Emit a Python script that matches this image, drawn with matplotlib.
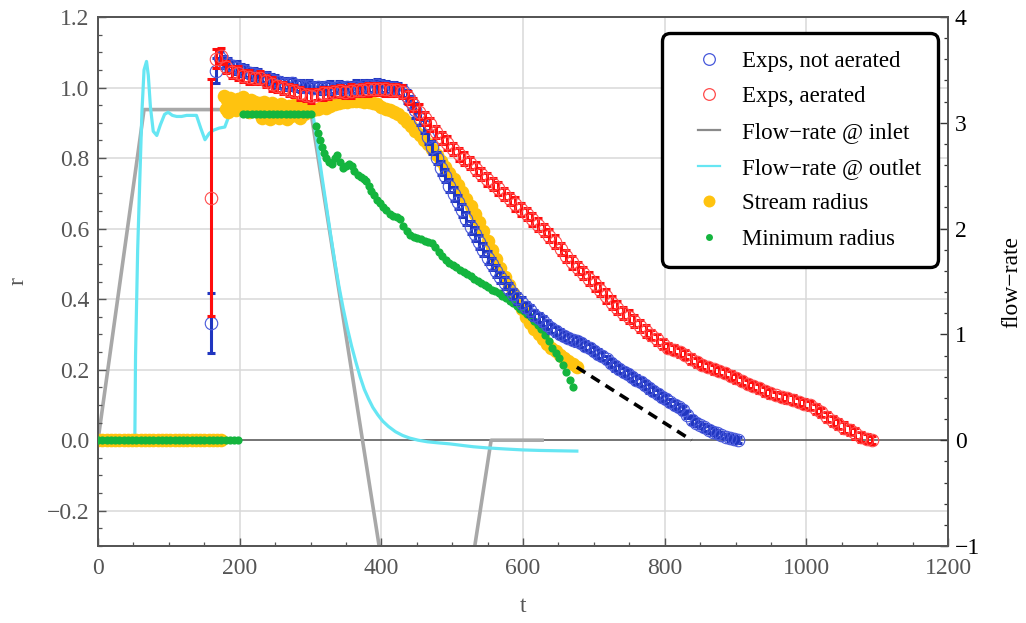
import matplotlib
matplotlib.use("Agg")
import matplotlib.pyplot as plt
from matplotlib.lines import Line2D
from matplotlib.legend_handler import HandlerLine2D
from matplotlib.ticker import MultipleLocator, FuncFormatter
from matplotlib.transforms import blended_transform_factory

plt.rcParams["font.family"] = ["Liberation Serif", "DejaVu Serif"]

# ---------------- data ----------------
# Experiments, not aerated: time, radius, error
blue_t = [160, 166, 172, 178, 184, 190, 196, 202, 208, 214,
          220, 226, 232, 238, 244, 250, 256, 262, 268, 274,
          280, 286, 292, 298, 304, 310, 316, 322, 328, 334,
          340, 346, 352, 358, 364, 370, 376, 382, 388, 394,
          400, 406, 412, 418, 424, 430, 436, 442, 448, 454,
          460, 466, 472, 478, 484, 490, 496, 502, 508, 514,
          520, 526, 532, 538, 544, 550, 556, 562, 568, 574,
          580, 586, 592, 598, 604, 610, 616, 622, 628, 634,
          640, 646, 652, 658, 664, 670, 676, 682, 688, 694,
          700, 706, 712, 718, 724, 730, 736, 742, 748, 754,
          760, 766, 772, 778, 784, 790, 796, 802, 808, 814,
          820, 826, 832, 838, 844, 850, 856, 862, 868, 874,
          880, 886, 892, 898, 904]
blue_r = [0.331, 1.048, 1.085, 1.072, 1.066, 1.060, 1.056, 1.050, 1.047, 1.041,
          1.038, 1.035, 1.030, 1.027, 1.022, 1.018, 1.015, 1.011, 1.009, 1.012,
          1.006, 1.004, 1.002, 1.003, 1.000, 1.002, 0.998, 1.001, 1.000, 0.999,
          1.002, 1.000, 1.001, 0.999, 1.002, 1.000, 1.003, 1.004, 1.002, 1.006,
          1.004, 1.001, 1.000, 0.998, 0.996, 0.990, 0.975, 0.958, 0.935, 0.912,
          0.890, 0.860, 0.830, 0.800, 0.772, 0.750, 0.722, 0.698, 0.675, 0.652,
          0.628, 0.604, 0.584, 0.562, 0.540, 0.518, 0.500, 0.480, 0.462, 0.446,
          0.430, 0.414, 0.402, 0.390, 0.378, 0.368, 0.356, 0.347, 0.337, 0.327,
          0.317, 0.309, 0.302, 0.296, 0.290, 0.285, 0.280, 0.275, 0.268, 0.261,
          0.253, 0.245, 0.238, 0.229, 0.219, 0.210, 0.202, 0.194, 0.187, 0.180,
          0.172, 0.165, 0.156, 0.147, 0.140, 0.131, 0.123, 0.116, 0.108, 0.100,
          0.093, 0.085, 0.072, 0.058, 0.050, 0.043, 0.037, 0.030, 0.024, 0.019,
          0.014, 0.010, 0.007, 0.004, 0.001]
blue_err = [0.085, 0.036, 0.018, 0.016, 0.017, 0.015, 0.018, 0.016, 0.017, 0.015,
            0.016, 0.018, 0.015, 0.017, 0.016, 0.018, 0.015, 0.016, 0.017, 0.015,
            0.016, 0.018, 0.015, 0.017, 0.016, 0.015, 0.017, 0.016, 0.018, 0.015,
            0.016, 0.017, 0.015, 0.016, 0.018, 0.015, 0.017, 0.016, 0.015, 0.017,
            0.016, 0.018, 0.015, 0.017, 0.016, 0.018, 0.019, 0.018, 0.020, 0.019,
            0.018, 0.020, 0.019, 0.018, 0.020, 0.019, 0.018, 0.019, 0.020, 0.018,
            0.019, 0.018, 0.020, 0.019, 0.018, 0.019, 0.017, 0.018, 0.016, 0.017,
            0.016, 0.015, 0.016, 0.015, 0.014, 0.015, 0.014, 0.013, 0.014, 0.013,
            0.012, 0.013, 0.012, 0.011, 0.012, 0.011, 0.012, 0.011, 0.012, 0.011,
            0.012, 0.013, 0.012, 0.011, 0.012, 0.013, 0.012, 0.011, 0.012, 0.011,
            0.012, 0.011, 0.012, 0.013, 0.012, 0.011, 0.012, 0.011, 0.010, 0.011,
            0.010, 0.011, 0.010, 0.011, 0.010, 0.009, 0.010, 0.009, 0.010, 0.009,
            0.009, 0.008, 0.009, 0.008, 0.008]

# Experiments, aerated: time, radius, error
red_t = [160, 167, 173, 181, 189, 197, 205, 213, 221, 229,
         237, 245, 253, 261, 269, 277, 285, 293, 301, 309,
         317, 325, 333, 341, 349, 357, 365, 373, 381, 389,
         397, 405, 413, 421, 429, 437, 445, 453, 461, 469,
         477, 485, 493, 501, 509, 517, 525, 533, 541, 549,
         557, 565, 573, 581, 589, 597, 605, 613, 621, 629,
         637, 645, 653, 661, 669, 677, 685, 693, 701, 709,
         717, 725, 733, 741, 749, 757, 765, 773, 781, 789,
         797, 805, 813, 821, 829, 837, 845, 853, 861, 869,
         877, 885, 893, 901, 909, 917, 925, 933, 941, 949,
         957, 965, 973, 981, 989, 997, 1005, 1013, 1021, 1029,
         1037, 1045, 1053, 1061, 1069, 1077, 1085, 1092]
red_r = [0.688, 1.082, 1.090, 1.058, 1.044, 1.040, 1.034, 1.030, 1.026, 1.028,
         1.018, 1.010, 1.003, 0.999, 0.994, 0.990, 0.984, 0.979, 0.976, 0.980,
         0.984, 0.985, 0.988, 0.990, 0.987, 0.990, 0.992, 0.994, 0.995, 0.996,
         0.997, 0.995, 0.993, 0.992, 0.988, 0.972, 0.952, 0.932, 0.913, 0.896,
         0.873, 0.857, 0.843, 0.826, 0.811, 0.798, 0.785, 0.770, 0.755, 0.740,
         0.727, 0.714, 0.698, 0.684, 0.670, 0.655, 0.640, 0.626, 0.611, 0.595,
         0.580, 0.563, 0.542, 0.522, 0.504, 0.488, 0.473, 0.458, 0.443, 0.427,
         0.408, 0.390, 0.376, 0.362, 0.350, 0.338, 0.324, 0.310, 0.298, 0.286,
         0.272, 0.262, 0.257, 0.249, 0.243, 0.231, 0.221, 0.213, 0.207, 0.201,
         0.196, 0.191, 0.183, 0.175, 0.167, 0.159, 0.153, 0.147, 0.139, 0.133,
         0.127, 0.122, 0.119, 0.115, 0.109, 0.104, 0.099, 0.089, 0.079, 0.067,
         0.055, 0.045, 0.035, 0.029, 0.019, 0.009, 0.004, 0.000]
red_err = [0.335, 0.027, 0.022, 0.018, 0.016, 0.020, 0.017, 0.019, 0.016, 0.018,
           0.017, 0.019, 0.016, 0.018, 0.017, 0.016, 0.018, 0.017, 0.019, 0.016,
           0.018, 0.017, 0.016, 0.018, 0.017, 0.019, 0.016, 0.017, 0.018, 0.016,
           0.017, 0.018, 0.016, 0.017, 0.018, 0.019, 0.018, 0.020, 0.018, 0.019,
           0.017, 0.018, 0.019, 0.017, 0.018, 0.019, 0.017, 0.018, 0.016, 0.018,
           0.017, 0.019, 0.018, 0.017, 0.019, 0.018, 0.017, 0.018, 0.019, 0.017,
           0.018, 0.019, 0.018, 0.017, 0.019, 0.018, 0.017, 0.018, 0.019, 0.018,
           0.020, 0.018, 0.019, 0.017, 0.018, 0.016, 0.017, 0.016, 0.015, 0.016,
           0.014, 0.013, 0.012, 0.013, 0.012, 0.014, 0.013, 0.012, 0.011, 0.012,
           0.011, 0.012, 0.013, 0.012, 0.011, 0.012, 0.011, 0.012, 0.013, 0.012,
           0.011, 0.012, 0.013, 0.012, 0.011, 0.012, 0.013, 0.014, 0.013, 0.014,
           0.015, 0.014, 0.016, 0.015, 0.016, 0.014, 0.013, 0.012]

# Stream radius
stream_t = [0, 6, 12, 18, 24, 30, 36, 42, 48, 54,
            60, 66, 72, 78, 84, 90, 96, 102, 108, 114,
            120, 126, 132, 138, 144, 150, 156, 162, 168, 174,
            178, 180, 182, 184, 186, 189, 192, 195, 198, 201,
            204, 207, 210, 213, 216, 219, 222, 225, 228, 231,
            234, 237, 240, 243, 246, 249, 252, 255, 258, 261,
            264, 267, 270, 273, 276, 279, 282, 285, 288, 291,
            294, 297, 300,
            304, 310, 316, 322, 328, 334, 340, 346, 352, 358,
            364, 370, 376, 382, 388, 394, 400, 406, 412, 418,
            424, 430, 436, 442, 448, 454, 460, 466, 472, 478,
            484, 490, 496, 502, 508, 514, 520, 526, 532, 538,
            544, 550, 556, 562, 568, 574, 580, 586, 592, 598,
            604, 610, 616, 622, 628, 634, 640, 646, 652, 658,
            664, 670, 676]
stream_r = [0, 0, 0, 0, 0, 0, 0, 0, 0, 0,
            0, 0, 0, 0, 0, 0, 0, 0, 0, 0,
            0, 0, 0, 0, 0, 0, 0, 0, 0, 0,
            0.975, 0.940, 0.965, 0.930, 0.970, 0.945, 0.962, 0.935, 0.968, 0.950,
            0.972, 0.940, 0.958, 0.930, 0.965, 0.945, 0.960, 0.935, 0.955, 0.915,
            0.958, 0.920, 0.950, 0.912, 0.955, 0.930, 0.948, 0.915, 0.952, 0.935,
            0.945, 0.912, 0.948, 0.920, 0.950, 0.930, 0.945, 0.915, 0.950, 0.925,
            0.942, 0.930, 0.940,
            0.935, 0.940, 0.945, 0.942, 0.948, 0.952, 0.955, 0.958, 0.960, 0.962,
            0.963, 0.962, 0.960, 0.958, 0.955, 0.952, 0.946, 0.940, 0.935, 0.930,
            0.925, 0.915, 0.902, 0.890, 0.876, 0.864, 0.852, 0.840, 0.826, 0.810,
            0.792, 0.775, 0.758, 0.742, 0.725, 0.705, 0.685, 0.664, 0.642, 0.618,
            0.592, 0.566, 0.540, 0.514, 0.488, 0.464, 0.440, 0.418, 0.394, 0.372,
            0.350, 0.332, 0.315, 0.300, 0.286, 0.273, 0.262, 0.252, 0.243, 0.234,
            0.225, 0.216, 0.207]

# Minimum radius
min_t = [0, 6, 12, 18, 24, 30, 36, 42, 48, 54,
         60, 66, 72, 78, 84, 90, 96, 102, 108, 114,
         120, 126, 132, 138, 144, 150, 156, 162, 168, 174,
         180, 186, 192, 198,
         205, 211, 217, 223, 229, 235, 241, 247, 253, 259,
         265, 271, 277, 283, 289, 295, 301,
         308, 311, 313, 316, 319, 322, 326, 330, 334, 337,
         341, 346, 350, 355, 358, 362, 367, 371, 375, 379,
         383, 386, 390, 394, 398, 403, 407, 412, 417, 422,
         426, 431, 436, 441, 446, 451, 456, 461, 466, 471,
         476, 481, 486, 491, 496, 501, 506, 511, 516, 521,
         526, 531, 536, 541, 546, 551, 556, 561, 566, 571,
         576, 581, 586, 591, 596, 601, 606, 611, 616, 621,
         626, 631, 636, 641, 646, 651, 656, 661, 666, 671]
min_r = [0, 0, 0, 0, 0, 0, 0, 0, 0, 0,
         0, 0, 0, 0, 0, 0, 0, 0, 0, 0,
         0, 0, 0, 0, 0, 0, 0, 0, 0, 0,
         0, 0, 0, 0,
         0.924, 0.924, 0.924, 0.924, 0.924, 0.924, 0.924, 0.924, 0.924, 0.924,
         0.924, 0.924, 0.924, 0.924, 0.924, 0.924, 0.924,
         0.890, 0.870, 0.851, 0.830, 0.815, 0.800, 0.790, 0.783, 0.800, 0.810,
         0.790, 0.772, 0.778, 0.782, 0.778, 0.762, 0.752, 0.745, 0.740, 0.736,
         0.722, 0.708, 0.694, 0.680, 0.672, 0.662, 0.652, 0.640, 0.635, 0.632,
         0.626, 0.606, 0.592, 0.582, 0.576, 0.572, 0.570, 0.566, 0.562, 0.558,
         0.548, 0.535, 0.522, 0.510, 0.503, 0.496, 0.490, 0.483, 0.477, 0.472,
         0.465, 0.458, 0.452, 0.446, 0.440, 0.433, 0.427, 0.422, 0.417, 0.410,
         0.403, 0.396, 0.388, 0.380, 0.372, 0.365, 0.357, 0.348, 0.338, 0.327,
         0.315, 0.298, 0.280, 0.262, 0.246, 0.232, 0.214, 0.193, 0.172, 0.150]

# Extrapolated end of the stream radius
dash_t = [676, 838]
dash_r = [0.207, 0.0]

# Flow-rate at inlet and outlet (right axis)
inlet_t = [0, 65, 300, 465, 555, 627]
inlet_q = [0, 3.125, 3.125, -3.9, 0, 0]

outlet_t = [0, 52, 53, 56, 59, 62, 65, 68.5, 71, 74,
            78, 83, 88, 94, 99, 105, 111, 118, 125, 132,
            139, 145, 151, 157, 163, 171, 179, 184, 189, 195,
            230, 270, 298, 304, 310, 316, 322, 328, 334, 340,
            346, 352, 358, 364, 370, 376, 382, 388, 395, 402,
            410, 420, 430, 440, 452, 465, 480, 497, 515, 530,
            550, 575, 600, 625, 650, 676]
outlet_q = [0, 0, 0.8, 1.8, 2.46, 3.1, 3.5, 3.58, 3.45, 3.15,
            2.92, 2.88, 2.98, 3.08, 3.10, 3.07, 3.06, 3.06, 3.07, 3.07,
            3.07, 2.95, 2.84, 2.90, 2.93, 2.95, 2.96, 3.05, 3.13, 3.14,
            3.13, 3.12, 3.12, 3.06, 2.78, 2.50, 2.23, 1.96, 1.70, 1.46,
            1.25, 1.06, 0.89, 0.74, 0.60, 0.48, 0.39, 0.31, 0.24, 0.18,
            0.13, 0.08, 0.045, 0.02, 0.0, -0.015, -0.025, -0.035, -0.05, -0.062,
            -0.073, -0.083, -0.092, -0.097, -0.100, -0.103]

legend_labels = ["Exps, not aerated", "Exps, aerated", "Flow\u2212rate @ inlet",
                 "Flow\u2212rate @ outlet", "Stream radius", "Minimum radius"]

# ---------------- styling ----------------
BLUE_BAR = "#2036c0"
BLUE_RING = "#4657da"
RED_BAR = "#ff0d0d"
RED_RING = "#ff4a4a"
GOLD = "#ffc30f"
GREEN = "#14b53e"
CYAN = "#66e6f3"
GREY = "#a8a8a8"
FRAME = "#555555"
GRID = "#d9d9d9"
FS = 17

fig = plt.figure(figsize=(10.26, 6.23), dpi=100)
ax = fig.add_axes([98 / 1026, 77 / 623, 850 / 1026, 529 / 623])
axq = ax.twinx()
ax.set_zorder(axq.get_zorder() + 1)
ax.patch.set_visible(False)

ax.set_xlim(0, 1200)
ax.set_ylim(-0.3, 1.2)
axq.set_ylim(-1, 4)

# grid and zero axis sit underneath the flow-rate curves
grid_tr = blended_transform_factory(axq.transAxes, ax.transData)
for y in [-0.2, 0.2, 0.4, 0.6, 0.8, 1.0]:
    axq.plot([0, 1], [y, y], transform=grid_tr, color=GRID, lw=1.1, zorder=0.5)
for x in [200, 400, 600, 800, 1000]:
    axq.axvline(x, color=GRID, lw=1.1, zorder=0.5)
axq.axhline(0, color="#5c5c5c", lw=1.2, zorder=1)

axq.plot(inlet_t, inlet_q, color=GREY, lw=2.6, zorder=2)
axq.plot(outlet_t, outlet_q, color=CYAN, lw=2.3, zorder=3)

# radius data
ax.plot(stream_t, stream_r, ls="none", marker="o", ms=9.8, color=GOLD, mec="none", zorder=2)
ax.plot(dash_t, dash_r, color="black", lw=2.6, ls=(0, (2.8, 1.9)), zorder=2.5)
ax.plot(min_t, min_r, ls="none", marker="o", ms=5.9, color=GREEN, mec="none", zorder=3)

ax.errorbar(blue_t, blue_r, yerr=blue_err, fmt="none", ecolor=BLUE_BAR,
            elinewidth=2.2, capsize=3.1, capthick=2.2, zorder=4)
ax.plot(blue_t, blue_r, ls="none", marker="o", ms=9.0, mfc="none",
        mec=BLUE_RING, mew=0.8, zorder=4.1)
ax.errorbar(red_t, red_r, yerr=red_err, fmt="none", ecolor=RED_BAR,
            elinewidth=2.2, capsize=3.1, capthick=2.2, zorder=5)
ax.plot(red_t, red_r, ls="none", marker="o", ms=9.0, mfc="none",
        mec=RED_RING, mew=0.8, zorder=5.1)

# ---------------- axes ----------------
for a in (ax, axq):
    for s in a.spines.values():
        s.set_color(FRAME)
        s.set_linewidth(1.3)

ax.xaxis.set_major_locator(MultipleLocator(200))
ax.xaxis.set_minor_locator(MultipleLocator(50))
ax.yaxis.set_major_locator(MultipleLocator(0.2))
ax.yaxis.set_minor_locator(MultipleLocator(0.05))
ax.yaxis.set_major_formatter(FuncFormatter(
    lambda v, p: "0.0" if abs(v) < 1e-9 else f"{v:.1f}".replace("-", "\u2212")))
axq.yaxis.set_major_locator(MultipleLocator(1))
axq.yaxis.set_minor_locator(MultipleLocator(0.2))

ax.tick_params(axis="both", which="major", direction="in", length=6, width=1.0,
               color=FRAME, labelcolor=FRAME, labelsize=FS)
ax.tick_params(axis="both", which="minor", direction="in", length=3, width=0.9,
               color=FRAME)
ax.tick_params(axis="y", which="major", pad=6)
ax.tick_params(axis="x", which="major", pad=9)
axq.tick_params(axis="y", which="major", direction="in", length=6, width=1.0,
                color="#333333", labelcolor="black", labelsize=FS, pad=5)
axq.tick_params(axis="y", which="minor", direction="in", length=3, width=0.9,
                color="#333333")

ax.set_xlabel("t", fontsize=FS, color=FRAME)
ax.xaxis.label.set_va("center")
ax.xaxis.set_label_coords(0.5, -(606 - 546) / 529)
ax.set_ylabel("r", fontsize=FS, color=FRAME)
ax.yaxis.label.set_va("center")
ax.yaxis.set_label_coords(-(98 - 18) / 850, 0.5)
axq.set_ylabel("flow\u2212rate", fontsize=FS, color="black", rotation=90)
axq.yaxis.label.set_va("center")
axq.yaxis.set_label_coords((1012 - 98) / 850, 0.5)


# ---------------- legend ----------------
class ShortLine(HandlerLine2D):
    def create_artists(self, legend, orig_handle, xdescent, ydescent, width,
                       height, fontsize, trans):
        seg = 0.95 * fontsize
        x0 = (width - seg) / 2 - xdescent
        y0 = height / 2 - ydescent
        line = Line2D([x0, x0 + seg], [y0, y0])
        self.update_prop(line, orig_handle, legend)
        line.set_transform(trans)
        return [line]


handles = [
    Line2D([], [], ls="none", marker="o", ms=8.4, mfc="none", mec=BLUE_RING, mew=0.9),
    Line2D([], [], ls="none", marker="o", ms=8.4, mfc="none", mec=RED_RING, mew=0.9),
    Line2D([], [], color="#8a8a8a", lw=1.6),
    Line2D([], [], color=CYAN, lw=1.6),
    Line2D([], [], ls="none", marker="o", ms=8.6, color=GOLD, mec="none"),
    Line2D([], [], ls="none", marker="o", ms=5.0, color=GREEN, mec="none"),
]
leg = ax.legend(handles, legend_labels, loc="upper right",
                bbox_to_anchor=((938.3 - 98) / 850, (546 - 33.3) / 529),
                borderaxespad=0, fontsize=16.5, frameon=True, fancybox=True,
                edgecolor="black", facecolor="white", framealpha=1,
                borderpad=0.75, labelspacing=0.64, handlelength=2.6,
                handletextpad=0.15, numpoints=1,
                handler_map={handles[2]: ShortLine(), handles[3]: ShortLine()})
leg.get_frame().set_linewidth(2.4)
leg.get_frame().set_boxstyle("round", pad=0, rounding_size=0.35)
leg.set_zorder(10)

fig.savefig("out.png", dpi=100, facecolor="white")
